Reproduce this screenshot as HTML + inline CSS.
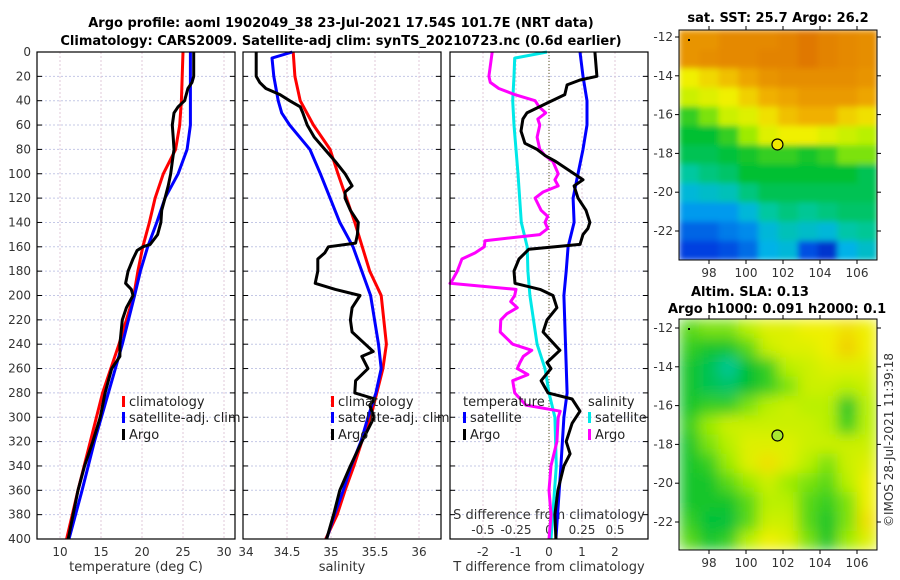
<!DOCTYPE html>
<html><head><meta charset="utf-8">
<style>
html,body{margin:0;padding:0;background:#fff;}
svg{display:block;font-family:"DejaVu Sans","Liberation Sans",sans-serif;}
.tk{font-size:12px;fill:#333;}
.tt{font-size:13px;font-weight:bold;fill:#000;}
</style></head>
<body>
<svg id="c" width="900" height="580" viewBox="0 0 900 580">
<defs>
<clipPath id="clip1"><rect x="679" y="30" width="198" height="230"/></clipPath>
<clipPath id="clip2"><rect x="679" y="319" width="198" height="231"/></clipPath>
<filter id="blur1" x="0" y="0" width="1" height="1"><feGaussianBlur stdDeviation="3" edgeMode="duplicate"/></filter>
<filter id="blur2" x="0" y="0" width="1" height="1"><feGaussianBlur stdDeviation="7" edgeMode="duplicate"/></filter>
</defs>
<text class="tt" x="341" y="27" text-anchor="middle">Argo profile: aoml 1902049_38 23-Jul-2021 17.54S 101.7E (NRT data)</text>
<text class="tt" x="341" y="45" text-anchor="middle">Climatology: CARS2009. Satellite-adj clim: synTS_20210723.nc (0.6d earlier)</text>
<text class="tt" x="778" y="22" text-anchor="middle">sat. SST: 25.7 Argo: 26.2</text>
<text class="tt" x="691" y="296">Altim. SLA: 0.13</text>
<text class="tt" x="668" y="313">Argo h1000: 0.091 h2000: 0.1</text>
<text class="tk" x="0" y="0" transform="translate(893,440) rotate(-90)" text-anchor="middle">©IMOS 28-Jul-2021 11:39:18</text>
</svg>
<script>
// ---- data ----
const depthTicks=[0,20,40,60,80,100,120,140,160,180,200,220,240,260,280,300,320,340,360,380,400];
const tempTicks=[10,15,20,25,30];
const salTicks=[34,34.5,35,35.5,36];
const dTTicks=[-2,-1,0,1,2];
const dSTicks=[-0.5,-0.25,0,0.25,0.5];
const dSTickLabels=["-0.5","-0.25","0","0.25","0.5"];

const argoTDepth=[0,20,25,30,40,45,50,60,70,80,90,100,110,120,130,140,150,158,160,163,170,180,190,195,200,210,220,240,250,260,270,280,300,320,340,360,380,400];
const argoT=[26.3,26.3,26.1,25.6,25.2,24.4,23.9,23.7,23.8,23.9,23.7,23.5,23.2,22.8,22.4,22.3,21.9,21.0,20.1,19.4,18.9,18.3,18.0,18.7,18.9,18.1,17.6,17.3,17.3,16.3,15.9,15.5,14.9,14.0,13.0,12.2,11.6,11.0];
const climTDepth=[0,40,60,80,100,120,140,160,180,200,240,280,320,360,400];
const climT=[25.0,24.8,24.6,24.1,22.6,21.6,20.9,20.1,19.5,19.0,17.2,15.2,13.7,12.2,10.8];
const satTDepth=[0,20,60,80,100,120,140,160,180,200,240,280,320,360,400];
const satT=[25.9,25.9,25.9,25.5,24.4,22.8,21.8,20.7,19.8,19.1,17.6,15.9,14.2,12.7,11.1];

const argoSDepth=[0,20,25,30,35,40,45,50,60,70,80,90,100,110,115,120,130,140,150,157,160,165,170,180,190,195,200,210,220,230,240,246,250,260,270,280,285,290,300,310,320,340,360,380,400];
const argoS=[34.15,34.15,34.19,34.26,34.42,34.53,34.65,34.68,34.73,34.81,34.93,35.05,35.16,35.24,35.16,35.16,35.22,35.31,35.30,35.28,34.97,34.93,34.85,34.85,34.82,35.05,35.33,35.24,35.22,35.24,35.39,35.48,35.35,35.42,35.28,35.27,35.5,35.44,35.49,35.42,35.35,35.22,35.10,35.03,34.95];
const climSDepth=[0,20,40,60,80,100,140,180,200,240,260,280,300,320,340,360,380,400];
const climS=[34.57,34.59,34.65,34.8,34.99,35.08,35.27,35.44,35.57,35.63,35.59,35.52,35.45,35.35,35.26,35.16,35.07,34.94];
const satSDepth=[0,5,20,40,50,60,80,100,120,140,160,180,200,240,260,280,300,320,340,360,380,400];
const satS=[34.56,34.33,34.35,34.40,34.44,34.53,34.76,34.88,34.99,35.1,35.25,35.35,35.45,35.54,35.57,35.51,35.42,35.34,35.23,35.14,35.04,34.95];

const satDTDepth=[0,20,40,60,80,100,120,140,160,180,200,240,280,300,340,400];
const satDT=[0.94,1.03,1.15,1.15,1.03,0.88,0.73,0.76,0.58,0.52,0.45,0.5,0.55,0.45,0.36,0.21];
const argoDTDepth=[0,20,23,27,35,42,50,55,65,75,80,85,90,100,105,110,120,130,140,145,150,158,162,170,180,190,195,200,210,220,230,245,255,260,270,280,285,295,305,320,330,340,360,380,400];
const argoDT=[1.39,1.45,0.94,0.55,0.48,-0.06,-0.67,-0.79,-0.85,-0.73,-0.36,-0.12,0.21,0.76,1.03,0.76,0.88,1.12,1.24,1.18,1.03,0.94,-0.61,-0.91,-1.06,-1.03,-0.27,0.12,0.24,-0.06,-0.18,0.33,-0.06,0.06,-0.24,-0.03,0.7,0.94,0.7,0.52,0.64,0.45,0.27,0.18,0.21];
const satDSDepth=[0,5,20,40,60,80,100,140,160,180,200,240,260,280,300,340,400];
const satDS=[-0.015,-0.26,-0.265,-0.275,-0.265,-0.25,-0.235,-0.21,-0.165,-0.16,-0.145,-0.09,-0.03,0,0.045,0.055,0.015];
const argoDSDepth=[0,20,25,30,35,40,45,50,55,60,70,80,85,90,100,105,110,115,120,130,135,140,145,150,155,160,165,170,180,188,190,195,200,205,210,215,220,230,240,245,250,255,260,265,270,280,290,295,300,320,340,360,380,400];
const argoDS=[-0.43,-0.455,-0.445,-0.38,-0.26,-0.105,-0.075,-0.025,-0.085,-0.07,-0.09,-0.07,-0.03,0.03,0.07,0.045,0.07,-0.045,-0.105,-0.06,-0.01,-0.03,-0.01,-0.07,-0.485,-0.49,-0.56,-0.66,-0.695,-0.735,-0.75,-0.25,-0.26,-0.29,-0.24,-0.32,-0.365,-0.37,-0.275,-0.13,-0.195,-0.22,-0.24,-0.16,-0.275,-0.26,-0.175,0.085,0.07,0.06,0.015,0,0.015,0];

const lonTicks=[98,100,102,104,106];
const latTicks=[-12,-14,-16,-18,-20,-22];
const argoLon=101.7, argoLat=-17.54;
const sstGrid=[
[.85,.85,.87,.87,.87,.88,.90,.88,.87,.86],
[.85,.86,.87,.87,.88,.88,.90,.88,.87,.86],
[.72,.75,.78,.82,.85,.86,.86,.86,.86,.85],
[.68,.70,.72,.76,.80,.82,.84,.84,.84,.82],
[.58,.62,.68,.70,.74,.78,.80,.80,.76,.74],
[.55,.55,.58,.64,.70,.72,.72,.70,.68,.66],
[.52,.52,.54,.56,.58,.58,.56,.58,.62,.62],
[.45,.48,.50,.55,.55,.55,.55,.55,.55,.52],
[.38,.40,.42,.48,.52,.52,.52,.52,.52,.52],
[.32,.32,.32,.38,.45,.48,.46,.48,.50,.50],
[.25,.25,.28,.30,.38,.42,.40,.38,.44,.46],
[.20,.20,.22,.26,.36,.38,.22,.15,.36,.40]];
const slaGrid=[
[.60,.62,.62,.66,.70,.70,.72,.72,.74,.72],
[.58,.56,.56,.60,.68,.70,.70,.72,.76,.72],
[.56,.52,.46,.55,.58,.66,.68,.70,.70,.70],
[.56,.52,.50,.55,.58,.62,.68,.68,.66,.68],
[.56,.58,.58,.62,.66,.68,.66,.66,.56,.66],
[.58,.64,.68,.68,.68,.68,.68,.66,.58,.66],
[.56,.62,.66,.70,.70,.70,.68,.68,.68,.68],
[.56,.58,.64,.70,.74,.70,.66,.62,.68,.70],
[.56,.56,.60,.64,.68,.64,.62,.60,.66,.72],
[.56,.56,.56,.60,.66,.66,.60,.58,.62,.72],
[.58,.54,.54,.60,.68,.68,.60,.56,.62,.74],
[.60,.56,.58,.66,.72,.70,.62,.56,.64,.70]];

// ---- drawing ----
const NS='http://www.w3.org/2000/svg';
const svg=document.getElementById('c');
function el(tag,attrs,parent){const e=document.createElementNS(NS,tag);for(const k in attrs)e.setAttribute(k,attrs[k]);(parent||svg).appendChild(e);return e;}
const yTop=52,yBot=539;
function yD(d){return yTop+d*(yBot-yTop)/400;}
function xT(t){return 60+(t-10)*8.2;}
function xS(s){return 243+(s-34)*88;}
function xDT(v){return 549+v*33;}
function xDS(v){return 549+v*132;}
const panels=[[37,235],[243,441],[450,648]];

panels.forEach((p,i)=>{
  const g=el('g',{});
  
  
  depthTicks.forEach(d=>{
    const y=yD(d);
    if(d>0&&d<400){const l=el('line',{x1:p[0],x2:p[1],y1:y,y2:y,stroke:'#c4c8e6','stroke-width':1,'stroke-dasharray':'2,2'},g);
    }
    el('line',{x1:p[0],x2:p[0]+5,y1:y,y2:y,stroke:'#000'},g);
    el('line',{x1:p[1]-5,x2:p[1],y1:y,y2:y,stroke:'#000'},g);
  });
  let xs=i==0?tempTicks.map(xT):i==1?salTicks.map(xS):dTTicks.map(xDT);
  xs.forEach(x=>{const l=el('line',{x1:x,x2:x,y1:yTop,y2:yBot,stroke:'#e0c8d8','stroke-width':1,'stroke-dasharray':'2,2'},g);
    });
});
depthTicks.forEach(d=>{const t=el('text',{x:31,y:yD(d)+4,'text-anchor':'end',class:'tk'});t.textContent=d;
  });
tempTicks.forEach(v=>{const t=el('text',{x:xT(v),y:556,'text-anchor':'middle',class:'tk'});t.textContent=v;
  });
salTicks.forEach(v=>{const t=el('text',{x:xS(v)+(v==34?3:0),y:556,'text-anchor':'middle',class:'tk'});t.textContent=v;
  });
dTTicks.forEach(v=>{const t=el('text',{x:xDT(v),y:556,'text-anchor':'middle',class:'tk'});t.textContent=v;
  });
dSTicks.forEach((v,i)=>{const t=el('text',{x:xDS(v),y:534,'text-anchor':'middle',class:'tk'});t.textContent=dSTickLabels[i];
  });
[['temperature (deg C)',136,'temperature-axis-title'],['salinity',342,'salinity-axis-title'],['T difference from climatology',549,'t-difference-axis-title']].forEach(a=>{
  const t=el('text',{x:a[1],y:571,'text-anchor':'middle',class:'tk',style:'font-size:13px'});t.textContent=a[0];
  });
{const t=el('text',{x:549,y:519,'text-anchor':'middle',class:'tk',style:'font-size:13px'});t.textContent='S difference from climatology';
}
{const l=el('line',{x1:549,x2:549,y1:yTop,y2:yBot,stroke:'#555522','stroke-width':1,'stroke-dasharray':'1,2'});
}

function series(depths,vals,xf,color,name){
  const pts=depths.map((d,i)=>xf(vals[i]).toFixed(1)+','+yD(d).toFixed(1)).join(' ');
  const p=el('polyline',{points:pts,fill:'none',stroke:color,'stroke-width':3,'stroke-linejoin':'round'});
  
  
}
series(climTDepth,climT,xT,'#ff0000','climatology-temperature-line');
series(satTDepth,satT,xT,'#0000ff','satellite-temperature-line');
series(argoTDepth,argoT,xT,'#000000','argo-temperature-line');
series(climSDepth,climS,xS,'#ff0000','climatology-salinity-line');
series(satSDepth,satS,xS,'#0000ff','satellite-salinity-line');
series(argoSDepth,argoS,xS,'#000000','argo-salinity-line');
series(satDSDepth,satDS,xDS,'#00e8e8','satellite-salinity-difference-line');
series(argoDSDepth,argoDS,xDS,'#ff00ff','argo-salinity-difference-line');
series(satDTDepth,satDT,xDT,'#0000ff','satellite-temperature-difference-line');
series(argoDTDepth,argoDT,xDT,'#000000','argo-temperature-difference-line');

panels.forEach(p=>{el('rect',{x:p[0],y:yTop,width:p[1]-p[0],height:yBot-yTop,fill:'none',stroke:'#000','stroke-width':1.2});});

function legend(x,rows,name){
  const g=el('g',{});
  
  
  rows.forEach(r=>{
    if(r[1]) el('rect',{x:x,y:r[2]-10,width:3,height:11,fill:r[1]},g);
    const t=el('text',{x:x+(r[1]?7:0),y:r[2],class:'tk',style:'font-size:13px;fill:#222'},g);t.textContent=r[0];
  });
}
legend(122,[['climatology','#ff0000',406],['satellite-adj. clim','#0000ff',422],['Argo','#000',439]],'temperature-legend');
legend(331,[['climatology','#ff0000',406],['satellite-adj. clim','#0000ff',422],['Argo','#000',439]],'salinity-legend');
legend(463,[['temperature',null,406],['satellite','#0000ff',422],['Argo','#000',439]],'t-difference-legend');
legend(588,[['salinity',null,406],['satellite','#00e8e8',422],['Argo','#ff00ff',439]],'s-difference-legend');

const stops=[[0,[0,16,150]],[0.2,[0,64,224]],[0.35,[0,176,240]],[0.45,[0,200,160]],[0.55,[0,192,48]],[0.65,[176,240,0]],[0.72,[240,240,0]],[0.8,[240,176,0]],[0.9,[224,120,0]],[1,[200,90,0]]];
function cmap(v){for(let i=1;i<stops.length;i++){if(v<=stops[i][0]){const a=stops[i-1],b=stops[i],f=(v-a[0])/(b[0]-a[0]);
  return 'rgb('+a[1].map((c,k)=>Math.round(c+(b[1][k]-c)*f)).join(',')+')';}}return 'rgb(200,90,0)';}

function drawMap(grid,x0,x1,y0,y1,latY0,fillC,name,clip,blur){
  const g=el('g',{});
  
  
  const cg=el('g',{'clip-path':'url(#'+clip+')'},g);
  const bg=el('g',{filter:'url(#'+blur+')'},cg);
  const rows=grid.length,cols=grid[0].length,cw=(x1-x0)/cols,ch=(y1-y0)/rows;
  grid.forEach((row,r)=>row.forEach((v,c)=>{
    const cell=el('rect',{x:x0+c*cw,y:y0+r*ch,width:cw+0.6,height:ch+0.6,fill:cmap(v)},bg);
    
    
  }));
  const lonX=l=>709+(l-98)*18.5, latY=la=>latY0+(-12-la)*19.4;
  el('rect',{x:x0,y:y0,width:x1-x0,height:y1-y0,fill:'none',stroke:'#000','stroke-width':1},g);
  lonTicks.forEach(l=>{const x=lonX(l);el('line',{x1:x,x2:x,y1:y1,y2:y1+4,stroke:'#000'},g);el('line',{x1:x,x2:x,y1:y0,y2:y0-4,stroke:'#000'},g);
    const t=el('text',{x:x,y:y1+17,'text-anchor':'middle',class:'tk'},g);t.textContent=l;});
  latTicks.forEach(la=>{const y=latY(la);el('line',{x1:x0-4,x2:x0,y1:y,y2:y,stroke:'#000'},g);el('line',{x1:x1,x2:x1+4,y1:y,y2:y,stroke:'#000'},g);
    const t=el('text',{x:x0-6,y:y+4,'text-anchor':'end',class:'tk'},g);t.textContent=la;});
  el('rect',{x:x0+9,y:y0+9,width:2,height:2,fill:'#000'},g);
  const c=el('circle',{cx:lonX(argoLon),cy:latY(argoLat),r:5.5,fill:fillC,stroke:'#000','stroke-width':1.2},g);
  
  
}
drawMap(sstGrid,679,877,30,260,37,'#f0e800','sst-map','clip1','blur1');
drawMap(slaGrid,679,877,319,550,328,'#a8e830','sla-map','clip2','blur2');
</script>
</body></html>
